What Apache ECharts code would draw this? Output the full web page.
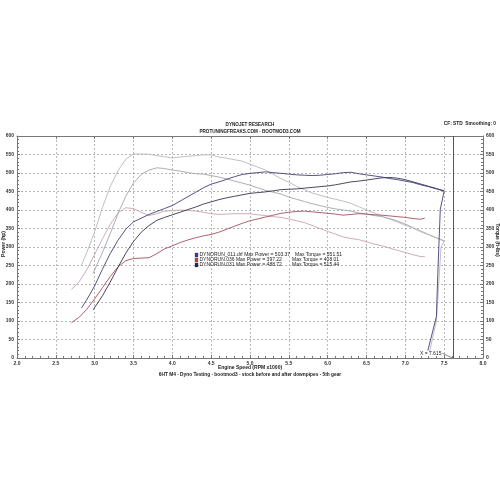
<!DOCTYPE html>
<html><head><meta charset="utf-8">
<script src="https://cdn.jsdelivr.net/npm/echarts@6/dist/echarts.min.js"></script>
<style>html,body{margin:0;padding:0;background:#fff}#c{width:500px;height:500px}</style>
</head><body><div id="c"></div>
<script>
// ---- data (engine speed in RPM x1000) ----
const rpm011 = [2.83,2.9,3.0,3.1,3.2,3.3,3.4,3.5,3.6,3.7,3.8,3.9,4.0,4.1,4.2,4.3,4.4,4.5,4.6,4.7,4.8,4.9,5.0,5.1,5.2,5.3,5.4,5.5,5.6,5.7,5.8,5.9,6.0,6.1,6.2,6.3,6.4,6.5,6.6,6.7,6.8,6.9,7.0,7.1,7.2,7.3,7.4,7.5];
const power011 = [135,158,195,240,282,318,348,368,378,388,396,404,412,424,436,448,460,470,476,483,490,496,499,501,503,501,499,497,495,494,493,494,496,498,501,502,498,495,492,489,485,482,478,474,468,463,457,451];
const torque011 = [251,286,341,407,463,506,537,552,551,551,547,544,541,543,545,547,549,549,543,540,536,532,524,516,508,496,485,475,464,455,446,440,434,429,424,418,409,400,392,383,375,367,359,351,341,333,324,316];
const tailRpm011 = [7.45,7.42,7.40,7.29];
const tailPower011 = [402,238,112,20];
const tailTorqueRpm011 = [7.46,7.43,7.40,7.31];
const tailTorque011 = [300,200,100,15];

const rpm031 = [2.98,3.1,3.2,3.3,3.4,3.5,3.6,3.7,3.8,3.9,4.0,4.1,4.2,4.3,4.4,4.5,4.6,4.7,4.8,4.9,5.0,5.1,5.2,5.3,5.4,5.5,5.6,5.7,5.8,5.9,6.0,6.1,6.2,6.3,6.4,6.5,6.6,6.7,6.8,6.9,7.0,7.1,7.2,7.3,7.4,7.5];
const power031 = [130,168,205,245,283,315,340,358,372,380,387,394,401,408,416,422,428,433,437,441,445,447,449,452,455,456,457,459,461,463,465,468,472,476,478,481,484,487,488,486,482,476,470,464,458,452];
const torque031 = [229,285,336,390,437,473,496,508,514,512,508,505,501,498,497,493,489,484,478,473,467,460,453,448,443,435,429,423,417,412,407,403,400,397,392,389,385,382,377,370,362,352,343,334,325,317];

const rpm036 = [2.7,2.8,2.9,3.0,3.1,3.2,3.3,3.4,3.5,3.6,3.7,3.8,3.9,4.0,4.1,4.2,4.3,4.4,4.5,4.6,4.7,4.8,4.9,5.0,5.1,5.2,5.3,5.4,5.5,5.6,5.7,5.8,5.9,6.0,6.1,6.2,6.3,6.4,6.5,6.6,6.7,6.8,6.9,7.0,7.1,7.2,7.25];
const power036 = [95,110,132,160,190,220,246,263,269,270,271,282,295,303,312,319,325,330,334,340,348,356,364,371,376,381,386,391,394,396,397,395,393,391,389,386,388,390,389,387,386,384,382,380,377,375,378];
const torque036 = [185,206,239,280,322,361,392,406,404,394,385,390,397,398,400,399,397,394,390,388,389,390,390,390,387,385,382,380,376,371,366,358,350,342,335,327,323,320,314,308,303,297,291,285,279,274,274];

const cursorX = 7.615;
const legendLines = [
  ['DYNORUN_011.drf Max Power = 503.37', 'Max Torque = 551.51'],
  ['DYNORUN.036 Max Power = 397.22', 'Max Torque = 408.01'],
  ['DYNORUN.031 Max Power = 488.72', 'Max Torque = 515.44']
];
const xMin = 2, xMax = 8, xStep = 0.5;
const yMin = 0, yMax = 600, yStep = 50;

// ---- build ----
const pair = (xs, ys) => xs.map((x, i) => [x, ys[i]]);
const FONT = 'Liberation Sans';
const lblStyle = {fontSize: 5, fontWeight: 'bold', color: '#333', fontFamily: FONT};
const axisLineStyle = {color: '#777', width: 1};

function lineSeries(name, data, color, yIdx, z, extra) {
  return Object.assign({
    name, type: 'line', data, xAxisIndex: 0, yAxisIndex: yIdx,
    showSymbol: false, symbol: 'none', smooth: false, z,
    lineStyle: {color, width: 0.9}, animation: false, silent: true
  }, extra || {});
}

const option = {
  animation: false,
  backgroundColor: '#fff',
  grid: {left: 17, right: 17, top: 136, bottom: 142},
  xAxis: [
    {type: 'value', min: xMin, max: xMax, interval: xStep, position: 'bottom',
     axisLine: {show: true, lineStyle: axisLineStyle},
     axisTick: {show: true, inside: true, length: 3, lineStyle: {color: '#777'}},
     minorTick: {show: true, splitNumber: 5, length: 2, lineStyle: {color: '#777'}},
     axisLabel: Object.assign({margin: 3, formatter: v => v.toFixed(1)}, lblStyle),
     splitLine: {show: true, lineStyle: {color: '#9a9a9a', width: 0.7, type: [2, 2]}}},
    {type: 'value', min: xMin, max: xMax, interval: xStep, position: 'top',
     axisLine: {show: true, onZero: false, lineStyle: axisLineStyle},
     axisTick: {show: true, inside: true, length: 3, lineStyle: {color: '#777'}},
     axisLabel: {show: false}, splitLine: {show: false}}
  ],
  yAxis: [
    {type: 'value', min: yMin, max: yMax, interval: yStep, position: 'left',
     axisLine: {show: true, onZero: false, lineStyle: axisLineStyle},
     axisTick: {show: true, inside: true, length: 3, lineStyle: {color: '#777'}},
     minorTick: {show: true, splitNumber: 5, length: 2, lineStyle: {color: '#777'}},
     axisLabel: Object.assign({margin: 3}, lblStyle),
     splitLine: {show: true, lineStyle: {color: '#9a9a9a', width: 0.7, type: [2, 2]}}},
    {type: 'value', min: yMin, max: yMax, interval: yStep, position: 'right',
     axisLine: {show: true, onZero: false, lineStyle: axisLineStyle},
     axisTick: {show: true, inside: true, length: 3, lineStyle: {color: '#777'}},
     minorTick: {show: true, splitNumber: 5, length: 2, lineStyle: {color: '#777'}},
     axisLabel: Object.assign({margin: 3}, lblStyle),
     splitLine: {show: false}}
  ],
  series: [
    lineSeries('Torque 036', pair(rpm036, torque036), '#c9a3ab', 1, 2),
    lineSeries('Torque 031', pair(rpm031, torque031), '#a4a4ae', 1, 2),
    lineSeries('Torque 011', pair(rpm011, torque011).concat(pair(tailTorqueRpm011, tailTorque011)), '#b8b8c0', 1, 2),
    lineSeries('Power 036', pair(rpm036, power036), '#a3505e', 0, 3),
    lineSeries('Power 031', pair(rpm031, power031), '#34344e', 0, 3),
    lineSeries('Power 011', pair(rpm011, power011).concat(pair(tailRpm011, tailPower011)), '#40407a', 0, 3, {
      markLine: {silent: true, symbol: 'none', animation: false, label: {show: false},
        lineStyle: {color: '#555', width: 1, type: 'solid'},
        data: [{xAxis: cursorX}]}
    })
  ]
};

const chart = echarts.init(document.getElementById('c'), null, {renderer: 'canvas'});
chart.setOption(option);

const toPx = (x, y) => chart.convertToPixel({xAxisIndex: 0, yAxisIndex: 0}, [x, y]);
const lblPt = toPx(cursorX - 0.15, 13);
const tipPt = toPx(cursorX - 0.01, 0);

const txt = (text, x, y, opts) => ({type: 'text', x, y, silent: true, z: 100,
  style: Object.assign({text, fill: '#222', font: 'bold 5px "Liberation Sans"', align: 'center', verticalAlign: 'middle'}, opts || {})});

const graphics = [
  txt('DYNOJET RESEARCH', 250, 125, {font: 'bold 4.6px "Liberation Sans"'}),
  txt('PROTUNINGFREAKS.COM - BOOTMOD3.COM', 250, 131.5, {font: 'bold 4.6px "Liberation Sans"'}),
  txt('CF: STD  Smoothing: 0', 496, 124, {align: 'right', font: 'bold 4.8px "Liberation Sans"'}),
  txt('Engine Speed (RPM x1000)', 250, 367.5),
  txt('6HT M4 - Dyno Testing - bootmod3 - stock before and after downpipes - 5th gear', 250, 374.5, {font: 'bold 4.8px "Liberation Sans"'}),
  Object.assign(txt('Power (hp)', 3.5, 244), {rotation: Math.PI / 2}),
  Object.assign(txt('Torque (ft-lbs)', 497.5, 240), {rotation: -Math.PI / 2}),
  txt('X = 7.615', lblPt[0], lblPt[1], {align: 'right', font: '5px "Liberation Sans"'}),
  {type: 'line', silent: true, z: 100, shape: {x1: lblPt[0] + 1, y1: lblPt[1], x2: tipPt[0], y2: tipPt[1]},
   style: {stroke: '#555', lineWidth: 0.7}}
];
const legendColors = ['#3a3aa8', '#c04848', '#25255e'];
const torqueX = [295, 292, 292];
legendLines.forEach((ln, i) => {
  const y = 255 + i * 5;
  graphics.push({type: 'rect', silent: true, z: 100, shape: {x: 195, y: y - 2, width: 3, height: 4},
    style: {fill: legendColors[i], stroke: '#333', lineWidth: 0.3}});
  graphics.push(txt(ln[0], 199.5, y, {align: 'left', font: '5px "Liberation Sans"'}));
  graphics.push(txt(ln[1], torqueX[i], y, {align: 'left', font: '5px "Liberation Sans"'}));
});
chart.setOption({graphic: graphics});
</script>
</body></html>
